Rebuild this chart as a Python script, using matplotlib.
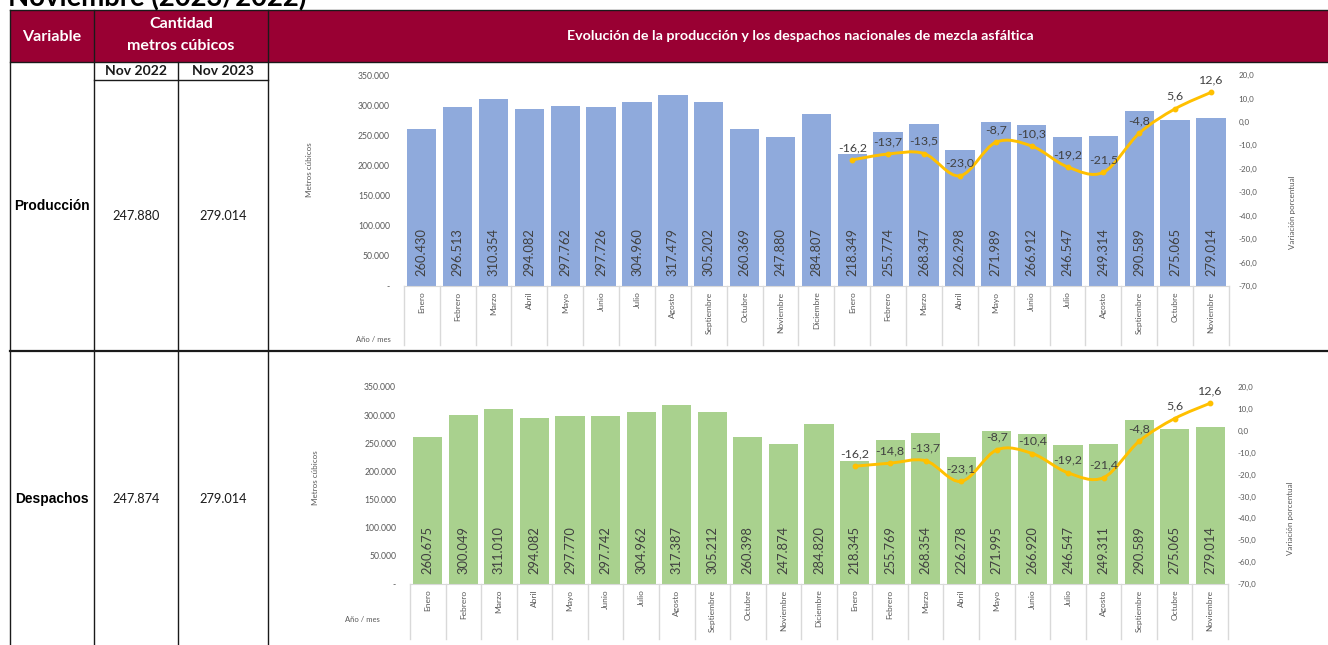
import numpy as np
import matplotlib
matplotlib.use("Agg")
import matplotlib.pyplot as plt
from matplotlib.path import Path
from matplotlib.patches import PathPatch, Rectangle
import matplotlib.transforms as mtransforms

plt.rcParams['font.family'] = ['Lato', 'DejaVu Sans']

# data
months = ["Enero", "Febrero", "Marzo", "Abril", "Mayo", "Junio", "Julio", "Agosto",
          "Septiembre", "Octubre", "Noviembre", "Diciembre",
          "Enero", "Febrero", "Marzo", "Abril", "Mayo", "Junio", "Julio", "Agosto",
          "Septiembre", "Octubre", "Noviembre"]
produccion = [260430, 296513, 310354, 294082, 297762, 297726, 304960, 317479, 305202,
              260369, 247880, 284807, 218349, 255774, 268347, 226298, 271989, 266912,
              246547, 249314, 290589, 275065, 279014]
despachos = [260675, 300049, 311010, 294082, 297770, 297742, 304962, 317387, 305212,
             260398, 247874, 284820, 218345, 255769, 268354, 226278, 271995, 266920,
             246547, 249311, 290589, 275065, 279014]
var_produccion = [-16.2, -13.7, -13.5, -23.0, -8.7, -10.3, -19.2, -21.5, -4.8, 5.6, 12.6]
var_despachos = [-16.2, -14.8, -13.7, -23.1, -8.7, -10.4, -19.2, -21.4, -4.8, 5.6, 12.6]
var_start = 12  # variation starts at Enero 2023

left_ticks = [0, 50000, 100000, 150000, 200000, 250000, 300000, 350000]
right_ticks = [-70, -60, -50, -40, -30, -20, -10, 0, 10, 20]

tabla_vars = ["Producción", "Despachos"]
tabla_nov22 = [247880, 247874]
tabla_nov23 = [279014, 279014]

W, H = 1328, 645
RED = '#990033'
GREY_TXT = '#595959'
DARK_TXT = '#404040'
LINE_C = '#FFC000'


def miles(v):
    return f"{v:,}".replace(",", ".")


def pct(v):
    return f"{v:.1f}".replace(".", ",")


def smooth_path(xs, ys):
    pts = np.column_stack([xs, ys]).astype(float)
    verts = [pts[0]]
    codes = [Path.MOVETO]
    n = len(pts)
    for i in range(n - 1):
        p0 = pts[i - 1] if i > 0 else pts[i]
        p1, p2 = pts[i], pts[i + 1]
        p3 = pts[i + 2] if i + 2 < n else pts[i + 1]
        verts += [p1 + (p2 - p0) / 6, p2 - (p3 - p1) / 6, p2]
        codes += [Path.CURVE4] * 3
    return Path(verts, codes)


fig = plt.figure(figsize=(W / 100, H / 100), dpi=100)

# background layer in pixel coordinates for the table
bg = fig.add_axes([0, 0, 1, 1])
bg.set_xlim(0, W)
bg.set_ylim(H, 0)
bg.axis('off')
bg.set_zorder(0)

# page title, cut off by the top edge as in the source
bg.text(8, 6, "Noviembre (2023/2022)", fontsize=19.8, fontweight='bold',
        ha='left', va='baseline', color='black')

bg.add_patch(Rectangle((10, 10), W - 10, 52, facecolor=RED, edgecolor='none'))
lc = '#1a1a1a'
for y, x0, x1, lw in [(10, 10, W, 1.0), (62, 10, W, 1.0), (80, 94, 268, 1.0), (351, 10, W, 1.6)]:
    bg.plot([x0, x1], [y, y], color=lc, lw=lw)
for x, y0 in [(10, 10), (94, 10), (178, 62), (268, 10)]:
    bg.plot([x, x], [y0, H], color=lc, lw=1.0)

bg.text(52, 37, "Variable", color='white', fontsize=11.5, fontweight='bold', ha='center', va='center')
bg.text(181, 24, "Cantidad", color='white', fontsize=11.5, fontweight='bold', ha='center', va='center')
bg.text(181, 46, "metros cúbicos", color='white', fontsize=11.5, fontweight='bold', ha='center', va='center')
bg.text(800, 36, "Evolución de la producción y los despachos nacionales de mezcla asfáltica",
        color='white', fontsize=10.3, fontweight='bold', ha='center', va='center')
bg.text(136, 71, "Nov 2022", fontsize=10, fontweight='bold', ha='center', va='center', color='#1a1a1a')
bg.text(223, 71, "Nov 2023", fontsize=10, fontweight='bold', ha='center', va='center', color='#1a1a1a')

for name, v22, v23, yc, yv in zip(tabla_vars, tabla_nov22, tabla_nov23, [206, 499], [216, 499]):
    bg.text(52, yc, name, fontsize=9.9, fontweight='bold', family='Liberation Sans',
            ha='center', va='center', color='black')
    bg.text(136, yv, miles(v22), fontsize=9.2, ha='center', va='center', color='#1a1a1a')
    bg.text(223, yv, miles(v23), fontsize=9.2, ha='center', va='center', color='#1a1a1a')


def draw_chart(box, values, var, color, ylab_xy, vlab_xy, ano_xy):
    x0, x1, ytop, ybot = box
    ax = fig.add_axes([x0 / W, 1 - ybot / H, (x1 - x0) / W, (ybot - ytop) / H])
    ax.set_zorder(1)
    ax.patch.set_visible(False)
    x = np.arange(len(values))
    ax.bar(x, values, width=0.82, color=color, zorder=2)
    ax.set_xlim(-0.5, len(values) - 0.5)
    ax.set_ylim(0, 350000)
    ax.set_yticks(left_ticks)
    ax.set_yticklabels(["-"] + [miles(t) for t in left_ticks[1:]])
    ax.tick_params(axis='y', length=0, pad=10, labelsize=6.2, labelcolor=GREY_TXT)
    ax.set_xticks(x)
    ax.set_xticklabels(months, rotation=90, va='top', ha='center')
    ax.tick_params(axis='x', length=0, pad=4, labelsize=6, labelcolor=GREY_TXT)
    for s in ['top', 'left', 'right']:
        ax.spines[s].set_visible(False)
    ax.spines['bottom'].set_color('#D9D9D9')
    # category separators below the axis
    trans = mtransforms.blended_transform_factory(ax.transData, ax.transAxes)
    for b in np.arange(-0.5, len(values), 1.0):
        ax.plot([b, b], [0, -0.28], color='#D9D9D9', lw=1, transform=trans, clip_on=False)
    for i, v in enumerate(values):
        ax.annotate(miles(v), (i, 0), xytext=(0, 7), textcoords='offset points',
                    rotation=90, ha='center', va='bottom', fontsize=9.3, color=DARK_TXT)

    ax2 = ax.twinx()
    ax2.set_zorder(2)
    ax2.patch.set_visible(False)
    ax2.set_ylim(-70, 20)
    ax2.set_yticks(right_ticks)
    ax2.set_yticklabels([pct(t) for t in right_ticks])
    ax2.tick_params(axis='y', length=0, pad=7, labelsize=5.8, labelcolor=GREY_TXT)
    for s in ax2.spines.values():
        s.set_visible(False)
    xv = np.arange(var_start, var_start + len(var))
    ax2.add_patch(PathPatch(smooth_path(xv, var), fill=False, edgecolor=LINE_C, lw=2.1, zorder=3))
    ax2.plot(xv, var, 'o', color=LINE_C, ms=3.2, zorder=4)
    for xi, v in zip(xv, var):
        ax2.annotate(pct(v), (xi, v), xytext=(0, 5), textcoords='offset points',
                     ha='center', va='bottom', fontsize=8.9, color=DARK_TXT, zorder=5)

    bg.text(ylab_xy[0], ylab_xy[1], "Metros cúbicos", rotation=90, fontsize=5.8,
            color=GREY_TXT, ha='center', va='center')
    bg.text(vlab_xy[0], vlab_xy[1], "Variación porcentual", rotation=90, fontsize=5.8,
            color=GREY_TXT, ha='center', va='center')
    bg.text(ano_xy[0], ano_xy[1], "Año / mes", fontsize=5.5, color=GREY_TXT,
            ha='center', va='center')


draw_chart((403.8, 1229, 75, 286), produccion, var_produccion, '#8FAADC',
           (309, 170), (1293, 212), (373, 339))
draw_chart((410, 1228, 387, 584), despachos, var_despachos, '#A9D18E',
           (315, 478), (1290, 518), (362, 619))

fig.savefig("out.png", dpi=100)
